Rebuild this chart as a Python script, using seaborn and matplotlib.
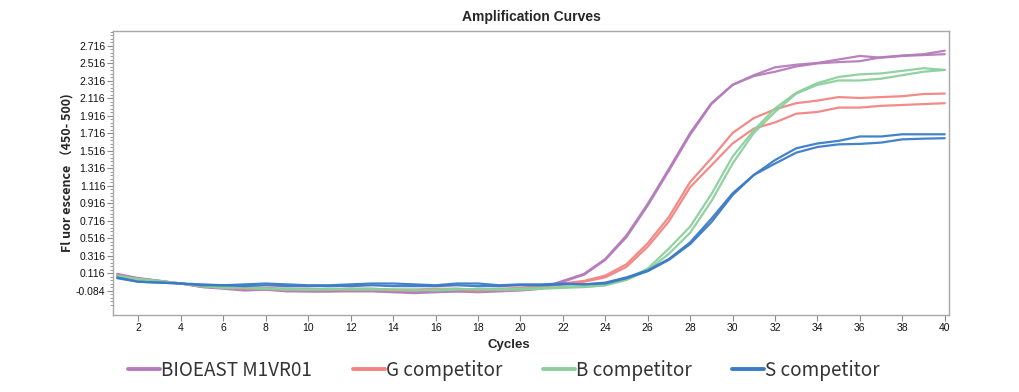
import numpy as np
import pandas as pd
import matplotlib
matplotlib.use("Agg")
import matplotlib.pyplot as plt
from matplotlib.ticker import FixedLocator
from matplotlib.lines import Line2D
import seaborn as sns

cycles = list(range(1, 41))

bioeast_r1 = [0.11, 0.06, 0.03, 0.00, -0.04, -0.06, -0.08, -0.07, -0.09, -0.09, -0.09, -0.09, -0.09, -0.10, -0.11, -0.10, -0.09, -0.10, -0.09, -0.08, -0.06, 0.02,
              0.10, 0.27, 0.53, 0.89, 1.29, 1.70, 2.05, 2.27, 2.38, 2.47, 2.50, 2.52, 2.56, 2.60, 2.58, 2.60, 2.61, 2.62]
bioeast_r2 = [0.10, 0.06, 0.03, 0.00, -0.04, -0.05, -0.07, -0.07, -0.08, -0.09, -0.09, -0.08, -0.08, -0.09, -0.10, -0.09, -0.09, -0.08, -0.08, -0.07, -0.05, 0.03,
              0.11, 0.28, 0.55, 0.91, 1.31, 1.72, 2.06, 2.27, 2.37, 2.42, 2.48, 2.515, 2.53, 2.54, 2.585, 2.605, 2.62, 2.66]
g_r1 = [0.09, 0.05, 0.02, 0.00, -0.03, -0.04, -0.05, -0.05, -0.06, -0.06, -0.07, -0.06, -0.06, -0.07, -0.07, -0.06, -0.06, -0.07, -0.06, -0.05, -0.03, 0.00,
        0.03, 0.09, 0.22, 0.46, 0.76, 1.16, 1.43, 1.72, 1.89, 1.99, 2.06, 2.09, 2.13, 2.12, 2.13, 2.14, 2.165, 2.17]
g_r2 = [0.08, 0.05, 0.02, 0.00, -0.03, -0.05, -0.06, -0.06, -0.07, -0.07, -0.07, -0.07, -0.07, -0.08, -0.08, -0.07, -0.07, -0.08, -0.07, -0.06, -0.04, -0.01,
        0.02, 0.07, 0.19, 0.42, 0.71, 1.10, 1.35, 1.60, 1.77, 1.84, 1.94, 1.96, 2.01, 2.01, 2.03, 2.04, 2.05, 2.06]
b_r1 = [0.09, 0.05, 0.03, 0.00, -0.03, -0.04, -0.05, -0.06, -0.06, -0.07, -0.07, -0.06, -0.06, -0.07, -0.08, -0.07, -0.06, -0.07, -0.07, -0.07, -0.06, -0.05,
        -0.04, -0.02, 0.05, 0.17, 0.40, 0.65, 1.02, 1.45, 1.75, 2.00, 2.18, 2.29, 2.36, 2.39, 2.40, 2.43, 2.46, 2.44]
b_r2 = [0.08, 0.05, 0.02, 0.00, -0.03, -0.05, -0.05, -0.06, -0.07, -0.07, -0.06, -0.07, -0.07, -0.07, -0.07, -0.08, -0.07, -0.06, -0.07, -0.06, -0.05, -0.04,
        -0.04, -0.02, 0.04, 0.15, 0.34, 0.58, 0.94, 1.37, 1.72, 1.96, 2.17, 2.27, 2.32, 2.32, 2.34, 2.38, 2.42, 2.44]
s_r1 = [0.07, 0.02, 0.01, 0.00, -0.01, -0.02, -0.01, 0.00, -0.01, -0.02, -0.02, -0.01, 0.00, 0.00, -0.01, -0.02, 0.00, 0.00, -0.02, -0.01, -0.01, 0.00,
        -0.01, 0.01, 0.07, 0.15, 0.28, 0.47, 0.74, 1.03, 1.24, 1.41, 1.545, 1.60, 1.63, 1.68, 1.68, 1.705, 1.705, 1.705]
s_r2 = [0.06, 0.02, 0.01, 0.00, -0.02, -0.02, -0.03, -0.02, -0.03, -0.03, -0.03, -0.03, -0.02, -0.03, -0.03, -0.03, -0.02, -0.03, -0.03, -0.02, -0.02, -0.01,
        -0.01, 0.00, 0.06, 0.14, 0.27, 0.45, 0.70, 1.01, 1.24, 1.37, 1.495, 1.56, 1.59, 1.595, 1.61, 1.647, 1.655, 1.66]

samples = ["BIOEAST M1VR01", "G competitor", "B competitor", "S competitor"]
colors = ["#b47cbb", "#f28582", "#8ccf9c", "#3a7bc6"]
y_ticks = [-0.084, 0.116, 0.316, 0.516, 0.716, 0.916, 1.116, 1.316, 1.516, 1.716, 1.916, 2.116, 2.316, 2.516, 2.716]
x_ticks = list(range(2, 41, 2))

series = {
    ("BIOEAST M1VR01", 1): bioeast_r1, ("BIOEAST M1VR01", 2): bioeast_r2,
    ("G competitor", 1): g_r1, ("G competitor", 2): g_r2,
    ("B competitor", 1): b_r1, ("B competitor", 2): b_r2,
    ("S competitor", 1): s_r1, ("S competitor", 2): s_r2,
}
rows = []
for (name, rep), vals in series.items():
    for c, v in zip(cycles, vals):
        rows.append({"Cycle": c, "Value": v, "Sample": name, "Rep": rep})
df = pd.DataFrame(rows)

sns.set_theme(style="white")
plt.rcParams["font.family"] = ["Liberation Sans", "DejaVu Sans"]

fig = plt.figure(figsize=(10.19, 3.92), dpi=100)
ax = fig.add_axes([0.1109, 0.1964, 0.8204, 0.7245])

sns.lineplot(data=df, x="Cycle", y="Value", hue="Sample", units="Rep", estimator=None,
             hue_order=samples, palette=colors, linewidth=1.6, alpha=0.95, legend=False, ax=ax)

ax.set_xlim(0.8, 40.2)
ax.set_ylim(-0.36, 2.885)
ax.xaxis.set_major_locator(FixedLocator(x_ticks))
ax.yaxis.set_major_locator(FixedLocator(y_ticks))
ax.yaxis.set_minor_locator(FixedLocator([t + k * 0.04 for t in [-0.284] + y_ticks for k in range(1, 5)]))
ax.set_yticklabels([f"{t:.3f}" for t in y_ticks])
ax.tick_params(axis="both", which="major", direction="out", length=4, width=0.8, color="#8a8a8a",
               labelsize=7.5, labelcolor="#111111", pad=1.5)
ax.tick_params(axis="y", which="minor", direction="out", length=2, width=0.6, color="#8a8a8a", left=True)
ax.tick_params(axis="x", bottom=True)
ax.tick_params(axis="y", left=True)
for sp in ax.spines.values():
    sp.set_color("#a8a8a8")
    sp.set_linewidth(1.0)

ax.set_title("Amplification Curves", fontsize=10, fontweight="bold", pad=7)
ax.set_xlabel("Cycles", fontsize=9.5, fontweight="bold")
ax.xaxis.set_label_coords(0.473, -0.085)
ax.set_ylabel("Fl uor escence （450- 500)", fontsize=9, fontweight="bold",
              family=["Noto Sans CJK SC", "Liberation Sans"])
ax.yaxis.set_label_coords(-0.046, 0.5)

handles = [Line2D([0], [0], color=c, linewidth=2.8) for c in colors]
leg = fig.legend(handles, samples, loc="center", bbox_to_anchor=(0.4946, 0.056), ncol=4,
                 frameon=False, handlelength=1.7, handletextpad=0.05, columnspacing=2.15,
                 borderpad=0, borderaxespad=0,
                 prop={"family": ["Noto Sans CJK SC", "DejaVu Sans"], "size": 13.6})
for t in leg.get_texts():
    t.set_color("#333333")

fig.savefig("out.png", dpi=100)
